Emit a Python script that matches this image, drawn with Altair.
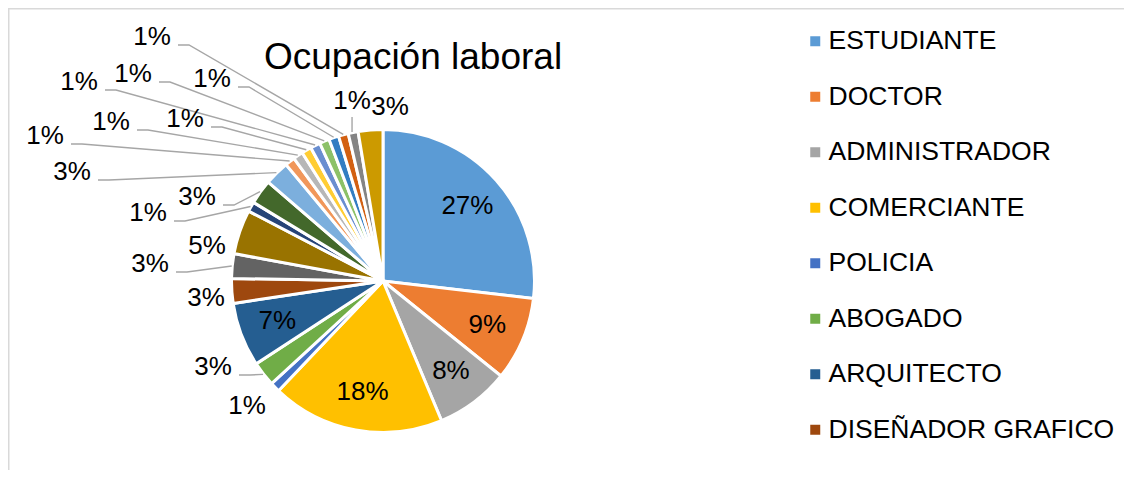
import math
import altair as alt
import pandas as pd

# ---------------- data ----------------
chart_title = "Ocupación laboral"
categories = [
    "ESTUDIANTE", "DOCTOR", "ADMINISTRADOR", "COMERCIANTE", "POLICIA",
    "ABOGADO", "ARQUITECTO", "DISEÑADOR GRAFICO",
    "Ocupación 9", "Ocupación 10", "Ocupación 11", "Ocupación 12",
    "Ocupación 13", "Ocupación 14", "Ocupación 15", "Ocupación 16",
    "Ocupación 17", "Ocupación 18", "Ocupación 19", "Ocupación 20",
    "Ocupación 21", "Ocupación 22",
]
counts = [51, 17, 15, 35, 2, 5, 13, 5, 5, 9, 2, 5, 5, 2, 2, 2, 2, 2, 2, 2, 2, 5]
colors = [
    "#5B9BD5", "#ED7D31", "#A5A5A5", "#FFC000", "#4472C4", "#70AD47",
    "#255E91", "#9E480E", "#636363", "#997300", "#264478", "#43682B",
    "#7CAFDD", "#F1975A", "#B7B7B7", "#FFCD33", "#698ED0", "#8CC168",
    "#327DC2", "#D26012", "#848484", "#CC9A00",
]
legend_shown = categories[:8]

# ---------------- layout ----------------
W, H = 1116, 462
CX, CY = 375, 273          # pie centre (plot coordinates)
R = 151.5
FONT = "Liberation Sans"
inside_labels = {0, 1, 2, 3, 6}
inside_radius = 113
# label placement (offset from pie centre) for the outside labels, as Excel placed them
outside_offsets = {
    4: (-136, 125), 5: (-170, 86), 7: (-177, 17), 8: (-233, -17),
    9: (-176, -35), 10: (-235, -68), 11: (-186, -84), 12: (-311, -109),
    13: (-338, -145), 14: (-272, -159), 15: (-198, -162), 16: (-304, -199),
    17: (-250, -207), 18: (-171, -202), 19: (-231, -244), 20: (-31, -180),
    21: (7, -174),
}
with_leader = {5, 8, 10, 11, 12, 13, 14, 15, 16, 17, 18, 19, 20}

total = sum(counts)
df = pd.DataFrame({"idx": list(range(len(categories))), "cat": categories, "count": counts})

# label + leader geometry derived from the slice angles
lab_rows, lead_rows = [], []
cum = 0
for i, c in enumerate(counts):
    mid = (cum + c / 2) / total * 2 * math.pi
    cum += c
    text = f"{round(100 * c / total)}%"
    if i in inside_labels:
        lx = CX + inside_radius * math.sin(mid)
        ly = CY - inside_radius * math.cos(mid)
    else:
        dx, dy = outside_offsets[i]
        lx, ly = CX + dx, CY + dy
    lab_rows.append({"x": lx, "y": ly, "text": text})
    if i in with_leader:
        ex = CX + (R + 0.5) * math.sin(mid)
        ey = CY - (R + 0.5) * math.cos(mid)
        if abs(lx - ex) < 25:
            pts = [(ex - 1, ly + 16), (ex - 1, ey)]
        else:
            sx, sy = lx + 26, ly + 8
            pts = [(sx, sy), (sx + 11, sy), (ex, ey)]
        for k, (px, py) in enumerate(pts):
            lead_rows.append({"id": i, "pt": k, "x": px, "y": py})

labels_df = pd.DataFrame(lab_rows)
leaders_df = pd.DataFrame(lead_rows)

# ---------------- chart ----------------
arcs = alt.Chart(df).mark_arc(
    outerRadius=R, stroke="white", strokeWidth=3, x=CX, y=CY
).encode(
    theta=alt.Theta("count:Q", stack=True),
    color=alt.Color(
        "cat:N",
        scale=alt.Scale(domain=categories, range=colors),
        legend=alt.Legend(
            values=legend_shown, title=None, orient="none",
            legendX=794, legendY=20, symbolType="square", symbolSize=100,
            symbolStrokeWidth=0, labelFontSize=26.5, labelFont=FONT,
            labelColor="black", rowPadding=28.5, labelOffset=0,
            labelLimit=400, padding=0,
        ),
    ),
    order=alt.Order("idx:Q", sort="ascending"),
)

leaders = alt.Chart(leaders_df).mark_line(color="#A6A6A6", strokeWidth=1.4).encode(
    x=alt.X("x:Q", scale=None, axis=None),
    y=alt.Y("y:Q", scale=None, axis=None),
    detail="id:N",
    order="pt:Q",
)

labels = alt.Chart(labels_df).mark_text(
    fontSize=26, font=FONT, color="black", align="center", baseline="middle"
).encode(
    x=alt.X("x:Q", scale=None, axis=None),
    y=alt.Y("y:Q", scale=None, axis=None),
    text="text:N",
)

title_mark = alt.Chart(pd.DataFrame({"t": [chart_title]})).mark_text(
    fontSize=37, font=FONT, color="black", align="center", baseline="alphabetic"
).encode(x=alt.value(405), y=alt.value(61), text="t:N")

one = pd.DataFrame({"k": [0]})
border_left = alt.Chart(one).mark_rule(color="#D9D9D9", strokeWidth=1.5).encode(
    x=alt.value(0.75), y=alt.value(0), y2=alt.value(H)
)
border_top = alt.Chart(one).mark_rule(color="#D9D9D9", strokeWidth=1.5).encode(
    x=alt.value(0), x2=alt.value(W), y=alt.value(0.75)
)

chart = alt.layer(
    border_left, border_top, arcs, leaders, labels, title_mark
).properties(
    width=W, height=H, padding=0, autosize="none"
).configure_view(strokeWidth=0)

chart.save("out.html", embed_options={"renderer": "svg", "actions": False})
